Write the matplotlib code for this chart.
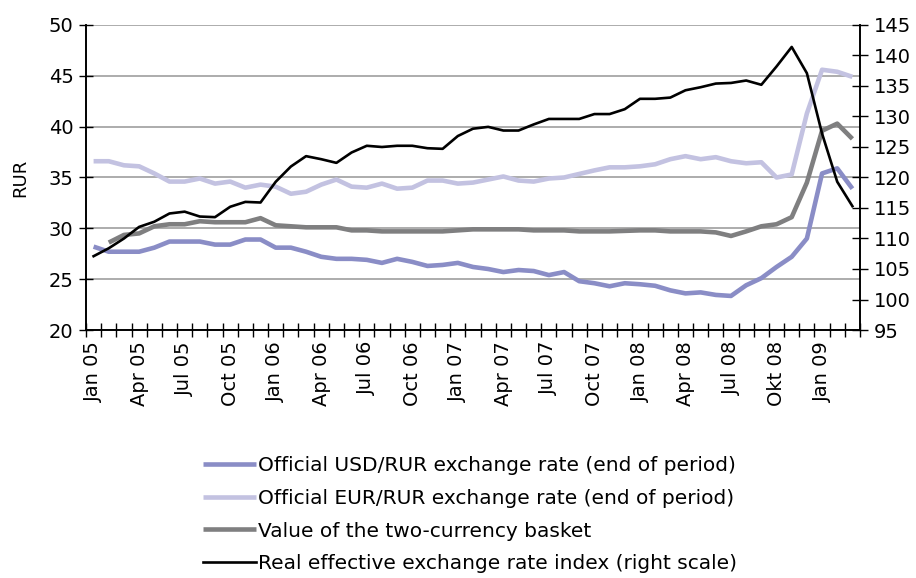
import numpy as np
import matplotlib
matplotlib.use("Agg")
import matplotlib.pyplot as plt
from matplotlib.ticker import FixedLocator

months = ["Jan 05", "Feb 05", "Mar 05", "Apr 05", "May 05", "Jun 05", "Jul 05", "Aug 05", "Sep 05",
          "Oct 05", "Nov 05", "Dec 05", "Jan 06", "Feb 06", "Mar 06", "Apr 06", "May 06", "Jun 06",
          "Jul 06", "Aug 06", "Sep 06", "Oct 06", "Nov 06", "Dec 06", "Jan 07", "Feb 07", "Mar 07",
          "Apr 07", "May 07", "Jun 07", "Jul 07", "Aug 07", "Sep 07", "Oct 07", "Nov 07", "Dec 07",
          "Jan 08", "Feb 08", "Mar 08", "Apr 08", "May 08", "Jun 08", "Jul 08", "Aug 08", "Sep 08",
          "Okt 08", "Nov 08", "Dec 08", "Jan 09", "Feb 09", "Mar 09"]

usd = [28.2, 27.7, 27.7, 27.7, 28.1, 28.7, 28.7, 28.7, 28.4, 28.4, 28.9, 28.9,
       28.1, 28.1, 27.7, 27.2, 27.0, 27.0, 26.9, 26.6, 27.0, 26.7, 26.3, 26.4,
       26.6, 26.2, 26.0, 25.7, 25.9, 25.8, 25.4, 25.7, 24.8, 24.6, 24.3, 24.6,
       24.5, 24.35, 23.9, 23.6, 23.7, 23.45, 23.35, 24.4, 25.1, 26.2, 27.2, 29.0,
       35.4, 35.9, 33.9]

eur = [36.6, 36.6, 36.2, 36.1, 35.4, 34.6, 34.6, 34.9, 34.4, 34.6, 34.0, 34.3,
       34.1, 33.4, 33.6, 34.3, 34.8, 34.1, 34.0, 34.4, 33.9, 34.0, 34.7, 34.7,
       34.4, 34.5, 34.8, 35.1, 34.7, 34.6, 34.9, 35.0, 35.35, 35.7, 36.0, 36.0,
       36.1, 36.3, 36.8, 37.1, 36.8, 37.0, 36.6, 36.4, 36.5, 35.0, 35.3, 41.3,
       45.6, 45.4, 44.9]

basket = [np.nan, 28.6, 29.35, 29.5, 30.2, 30.4, 30.4, 30.7, 30.6, 30.6, 30.6, 31.0,
          30.3, 30.2, 30.1, 30.1, 30.1, 29.8, 29.8, 29.7, 29.7, 29.7, 29.7, 29.7,
          29.8, 29.9, 29.9, 29.9, 29.9, 29.8, 29.8, 29.8, 29.7, 29.7, 29.7, 29.75,
          29.8, 29.8, 29.7, 29.7, 29.7, 29.6, 29.25, 29.7, 30.2, 30.4, 31.1, 34.5,
          39.6, 40.3, 38.8]

reer = [107.1, 108.4, 110.0, 111.9, 112.75, 114.1, 114.4, 113.6, 113.5, 115.2, 116.0, 115.9,
        119.3, 121.8, 123.5, 123.0, 122.4, 124.1, 125.2, 125.0, 125.2, 125.2, 124.8, 124.7,
        126.8, 128.0, 128.3, 127.7, 127.7, 128.7, 129.6, 129.6, 129.6, 130.4, 130.4, 131.2,
        132.9, 132.9, 133.1, 134.3, 134.8, 135.4, 135.5, 135.9, 135.2, 138.2, 141.4, 137.1,
        127.2, 119.3, 115.3]

labels = ["Official USD/RUR exchange rate (end of period)",
          "Official EUR/RUR exchange rate (end of period)",
          "Value of the two-currency basket",
          "Real effective exchange rate index (right scale)"]

plt.rcParams['font.family'] = ['DejaVu Sans']

fig = plt.figure(figsize=(9.16, 5.78), dpi=100)
ax = fig.add_axes([86/916, 1-330/578, (860-86)/916, (330-25)/578])
ax2 = ax.twinx()

x = np.arange(len(months))
c_usd = '#8a8dc6'
c_eur = '#c3c2e1'
c_bas = '#7f7f80'

l1, = ax.plot(x, usd, color=c_usd, lw=3.3, solid_capstyle='butt', zorder=3)
l2, = ax.plot(x, eur, color=c_eur, lw=3.3, solid_capstyle='butt', zorder=3)
l3, = ax.plot(x, basket, color=c_bas, lw=3.3, solid_capstyle='butt', zorder=3)
l4, = ax2.plot(x, reer, color='black', lw=1.9, zorder=4)

ax.set_xlim(-0.5, len(months) - 0.5)
ax.set_ylim(20, 50)
ax.set_yticks(np.arange(20, 51, 5))
ax2.set_ylim(95, 145)
ax2.set_yticks(np.arange(95, 146, 5))

ax.yaxis.grid(True, color='#a6a6a6', lw=1.3)
ax.set_axisbelow(True)

ax.set_xticks(x[::3])
ax.set_xticklabels(months[::3], rotation=90, fontsize=14)
ax.xaxis.set_minor_locator(FixedLocator(np.arange(-0.5, len(months), 1.0)))
ax.tick_params(axis='x', which='major', length=0, pad=8)
ax.tick_params(axis='x', which='minor', length=10, direction='inout', width=1)
ax.tick_params(axis='y', labelsize=14, direction='inout', length=10, width=1, pad=4)
ax2.tick_params(axis='y', labelsize=14, direction='inout', length=12, width=1, pad=4)

for a in (ax, ax2):
    a.spines['top'].set_visible(False)
    for s in ('left', 'right', 'bottom'):
        a.spines[s].set_linewidth(1.2)
        a.spines[s].set_color('black')

ax.set_ylabel('RUR', fontsize=13, labelpad=14)

fig.legend([l1, l2, l3, l4], labels, loc='upper center',
           bbox_to_anchor=(470/916, 1-438/578), frameon=False, fontsize=14.5,
           handlelength=2.6, handletextpad=0.1, labelspacing=0.68)

fig.savefig('out.png', dpi=100)
